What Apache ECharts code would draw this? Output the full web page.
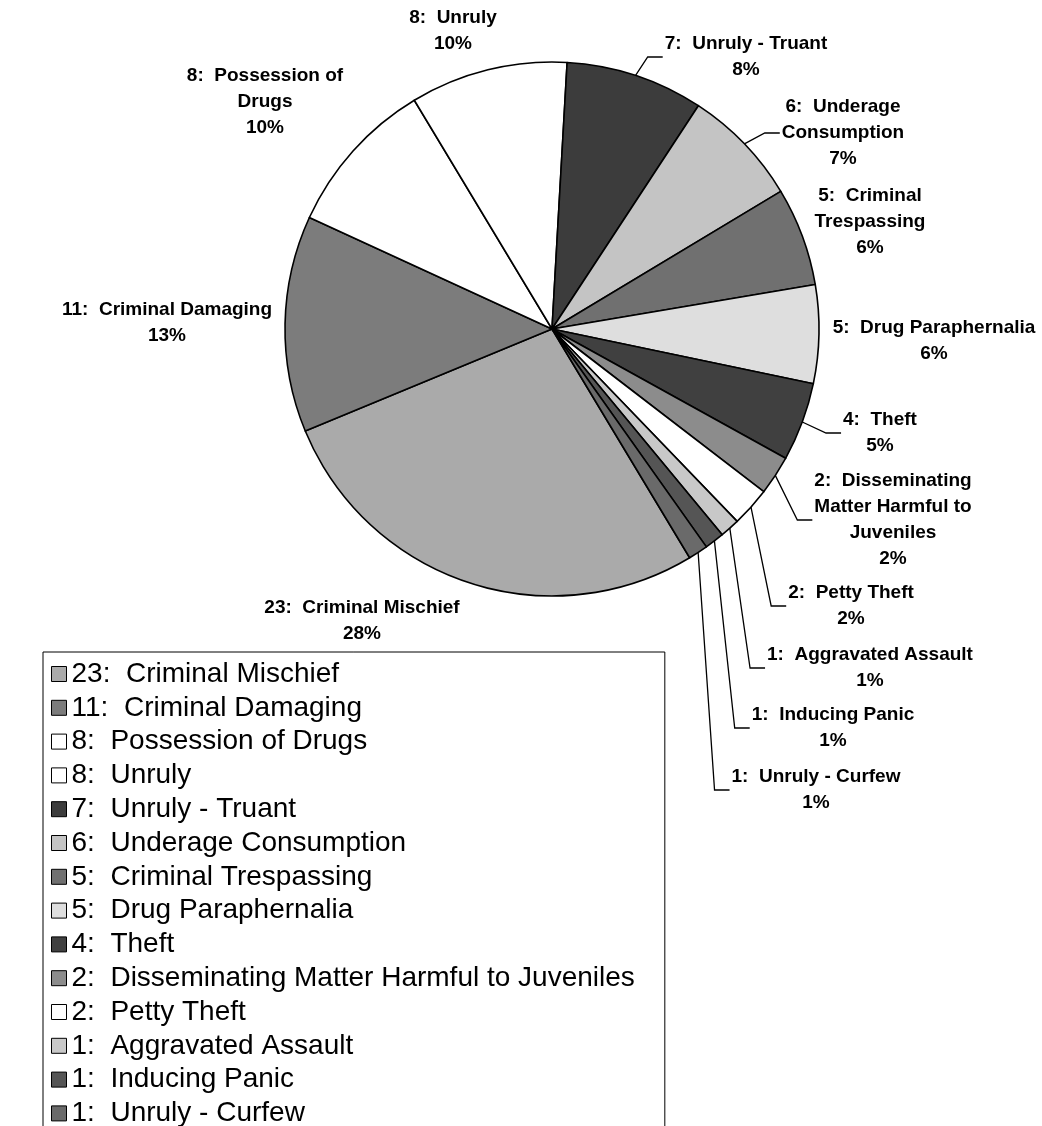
<!DOCTYPE html>
<html><head><meta charset="utf-8">
<script src="https://cdn.jsdelivr.net/npm/echarts@6/dist/echarts.min.js"></script>
<style>html,body{margin:0;padding:0;background:#fff}#c{width:1042px;height:1126px}</style>
</head><body><div id="c"></div>
<script>
// ---- data ----
const categories = ['Criminal Mischief','Criminal Damaging','Possession of Drugs','Unruly','Unruly - Truant','Underage Consumption','Criminal Trespassing','Drug Paraphernalia','Theft','Disseminating Matter Harmful to Juveniles','Petty Theft','Aggravated Assault','Inducing Panic','Unruly - Curfew'];
const counts = [23,11,8,8,7,6,5,5,4,2,2,1,1,1];
const pieLabelText = ['Criminal Mischief','Criminal Damaging','Possession of\nDrugs','Unruly','Unruly - Truant','Underage\nConsumption','Criminal\nTrespassing','Drug Paraphernalia','Theft','Disseminating\nMatter Harmful to\nJuveniles','Petty Theft','Aggravated Assault','Inducing Panic','Unruly - Curfew'];

// ---- styling / layout (not data) ----
const sliceColors = ['#aaaaaa','#7c7c7c','#ffffff','#ffffff','#3c3c3c','#c4c4c4','#707070','#dedede','#404040','#8c8c8c','#ffffff','#c8c8c8','#555555','#6a6a6a'];
const labelAnchor = [[362,621],[167,323],[265,102],[453,31],[746,57],[843,133],[870,222],[934,341],[880,433],[893,520],[851,606],[870,668],[833,728],[816,790]];
const hasLeader = [0,0,0,0,1,1,0,0,1,1,1,1,1,1];
const FONT = "'Liberation Sans', Arial, sans-serif";

const seriesData = categories.map((c, i) => ({
  name: counts[i] + ':  ' + c,
  value: counts[i],
  itemStyle: { color: sliceColors[i] },
  labelLine: { show: !!hasLeader[i] }
}));

const chart = echarts.init(document.getElementById('c'), null, { renderer: 'canvas' });
chart.setOption({
  backgroundColor: '#ffffff',
  animation: false,
  legend: {
    orient: 'vertical', left: 43, top: 652, height: 800,
    padding: [8, 30, 10, 8],
    itemWidth: 15, itemHeight: 15, itemGap: 5.8,
    icon: 'rect',
    selectedMode: false,
    borderColor: '#000', borderWidth: 1,
    itemStyle: { borderColor: '#000', borderWidth: 1 },
    textStyle: { fontFamily: FONT, fontSize: 28, lineHeight: 28, color: '#000' },
    data: seriesData.map(d => d.name)
  },
  series: [{
    type: 'pie',
    center: [552, 329],
    radius: 267,
    startAngle: 301.04,
    clockwise: true,
    percentPrecision: 0,
    avoidLabelOverlap: false,
    minShowLabelAngle: 0,
    itemStyle: { borderColor: '#000', borderWidth: 1.6 },
    emphasis: { disabled: true },
    label: {
      show: true, position: 'outside',
      fontFamily: FONT, fontSize: 19, fontWeight: 'bold', lineHeight: 26, color: '#000',
      align: 'center',
      formatter: p => counts[p.dataIndex] + ':  ' + pieLabelText[p.dataIndex] + '\n' + p.percent + '%'
    },
    labelLine: { show: true, length: 10, length2: 10, lineStyle: { color: '#000', width: 1.3 } },
    labelLayout: function (p) {
      const i = p.dataIndex, a = labelAnchor[i];
      const res = { x: a[0], y: a[1], align: 'center', verticalAlign: 'middle' };
      if (hasLeader[i] && p.labelLinePoints) {
        const left = a[0] - p.labelRect.width / 2;
        const s = p.labelLinePoints[0];
        res.labelLinePoints = [[s[0], s[1]], [left - 17, a[1]], [left - 2, a[1]]];
      }
      return res;
    },
    data: seriesData
  }]
});
</script></body></html>
